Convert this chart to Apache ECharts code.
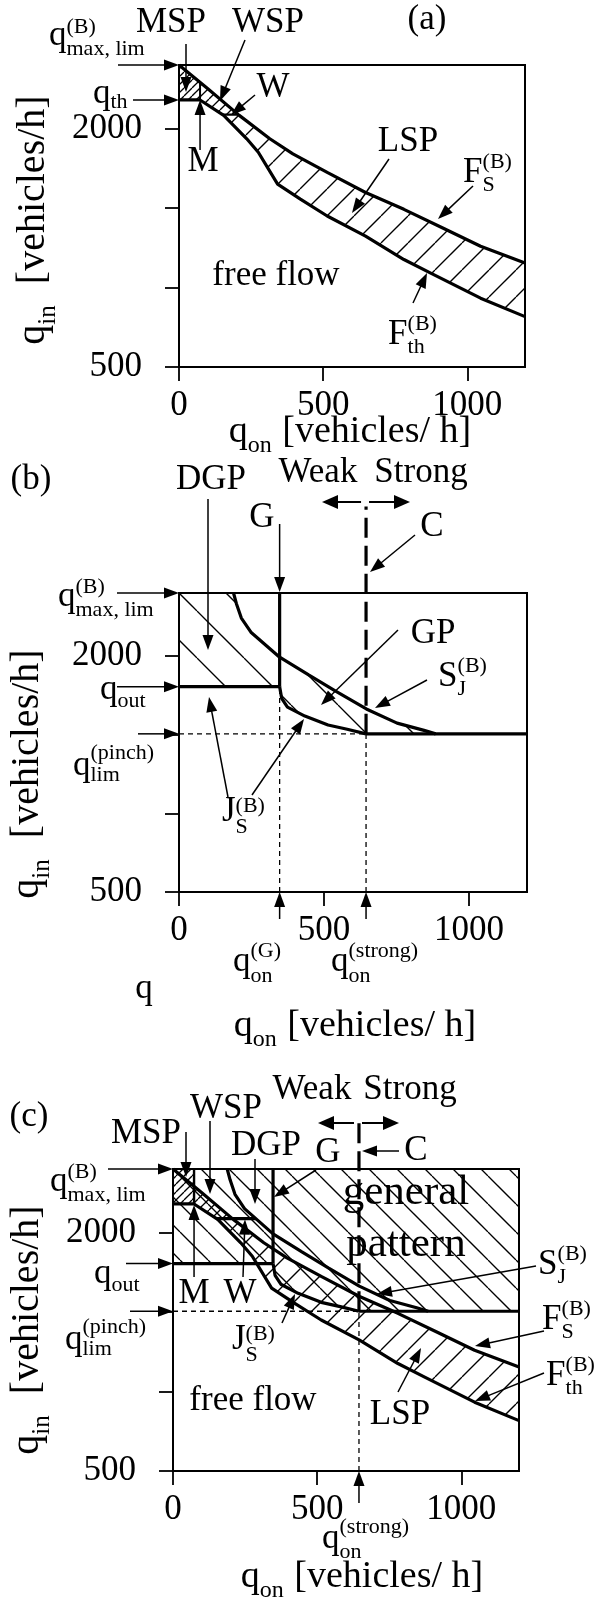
<!DOCTYPE html>
<html><head><meta charset="utf-8">
<script src="https://cdn.jsdelivr.net/npm/echarts@6/dist/echarts.min.js"></script>
<style>html,body{margin:0;padding:0;background:#fff}#c{width:603px;height:1608px}</style>
</head><body><div id="c"></div>
<script>
// ---------------- data ----------------
const xTicks = [0, 500, 1000];
const yTicks = [500, 1000, 1500, 2000];
const yTickLabels = [500, 2000];
const xMax = 1200, yMin = 500, yMax = 2400;

// F_S^(B) boundary
const fsX = [0, 100, 209, 315, 395, 514, 647, 780, 913, 1046, 1200];
const fsY = [2400, 2250, 2083, 1936, 1841, 1724, 1598, 1492, 1376, 1260, 1155];
// F_th^(B) boundary
const fthX = [73, 155, 235, 275, 342, 421, 514, 647, 780, 873, 1046, 1200];
const fthY = [2180, 2083, 1936, 1851, 1651, 1556, 1450, 1323, 1176, 1091, 933, 817];
const qTh = 2180, qOnM = 73, qW = 2088;
// S_J^(B) boundary
const sjX = [188, 198, 215, 248, 347, 447, 540, 646, 752, 845, 885];
const sjY = [2400, 2332, 2241, 2151, 1992, 1879, 1777, 1663, 1573, 1527, 1505];
// J_S^(B) boundary
const jsX = [347, 354, 374, 434, 514, 580, 645];
const jsY = [1805, 1731, 1675, 1618, 1561, 1534, 1505];
const qOut = 1805, qPinch = 1505, qOnG = 347, qOnStrong = 645;
const cTopB = 2950, cTopC = 2730;

// ---------------- helpers ----------------
const FONT = '"Liberation Serif","Times New Roman",serif';
const TH = 3.2, TN = 1.3;
function yAt(xs, ys, x) { for (let i = 0; i < xs.length - 1; i++) { if (x >= xs[i] && x <= xs[i + 1]) { const t = (x - xs[i]) / (xs[i + 1] - xs[i]); return ys[i] + t * (ys[i + 1] - ys[i]); } } return x < xs[0] ? ys[0] : ys[ys.length - 1]; }
function xAtY(xs, ys, y) { for (let i = 0; i < ys.length - 1; i++) { const a = ys[i], b = ys[i + 1]; if ((y <= a && y >= b) || (y >= a && y <= b)) { const t = (y - a) / (b - a); return xs[i] + t * (xs[i + 1] - xs[i]); } } return NaN; }
function pts(xs, ys) { return xs.map((x, i) => [x, ys[i]]); }
function seg(xs, ys, x0, x1) { const o = [[x0, yAt(xs, ys, x0)]]; xs.forEach((x, i) => { if (x > x0 && x < x1) o.push([x, ys[i]]); }); o.push([x1, yAt(xs, ys, x1)]); return o; }

const xFsW = xAtY(fsX, fsY, qW), xFthW = xAtY(fthX, fthY, qW), xSjW = xAtY(sjX, sjY, qW);
const sjEnd = sjX[sjX.length - 1];

function hatch(P, dir, phase, lw) {
  const c = document.createElement('canvas'); c.width = P; c.height = P;
  const g = c.getContext('2d'); g.strokeStyle = '#000'; g.lineWidth = lw;
  for (let k = -2; k <= 2; k++) {
    const o = phase + k * P; g.beginPath();
    if (dir === '\\') { g.moveTo(o, 0); g.lineTo(o + P, P); } else { g.moveTo(o, P); g.lineTo(o + P, 0); }
    g.stroke();
  }
  return { image: c, repeat: 'repeat' };
}

const chart = echarts.init(document.getElementById('c'), null, { renderer: 'canvas' });
const grids = [
  { left: 179, top: 65, width: 346, height: 302 },
  { left: 179, top: 593, width: 348, height: 299 },
  { left: 173, top: 1169, width: 346, height: 302 }
];
const fmt = v => String(v);
function xAx(i) { return { type: 'value', gridIndex: i, min: 0, max: xMax, axisLine: { show: true, onZero: false, lineStyle: { color: '#000', width: 2 } }, axisTick: { show: true, length: 14, customValues: xTicks, lineStyle: { color: '#000', width: 1.8 } }, axisLabel: { customValues: xTicks, formatter: fmt, fontSize: 35, fontFamily: FONT, color: '#000', margin: 21 }, splitLine: { show: false } }; }
function yAx(i) { return { type: 'value', gridIndex: i, min: yMin, max: yMax, axisLine: { show: true, onZero: false, lineStyle: { color: '#000', width: 2 } }, axisTick: { show: true, length: 14, customValues: yTicks, lineStyle: { color: '#000', width: 1.8 } }, axisLabel: { customValues: yTickLabels, formatter: fmt, fontSize: 35, fontFamily: FONT, color: '#000', margin: 37 }, splitLine: { show: false } }; }
function line(g, data, w, type) { return { type: 'line', xAxisIndex: g, yAxisIndex: g, data: data, symbol: 'none', showSymbol: false, clip: false, silent: true, z: 5, lineStyle: { color: '#000', width: w, type: type || 'solid', cap: 'butt' } }; }
function hatchSeries(g, polys) {
  return { type: 'custom', xAxisIndex: g, yAxisIndex: g, coordinateSystem: 'cartesian2d', silent: true, clip: false, z: 2,
    data: polys.map(() => [0, yMin]),
    renderItem: (params, api) => {
      const p = polys[params.dataIndex];
      return { type: 'polygon', shape: { points: p.pts.map(q => api.coord(q)) }, style: { fill: p.fill(), stroke: null, lineWidth: 0 } };
    } };
}
let corner = [];
function bs(g, P) { return () => { const c = corner[g]; return hatch(P, '\\', (((c[0] - c[1]) % P) + P) % P, 1.3); }; }
function sl(P, ph) { return () => hatch(P, '/', ph, 1.3); }

const wspPoly = [...seg(fsX, fsY, qOnM, xFsW), ...seg(fthX, fthY, qOnM, xFthW).reverse()];
const lspPoly = [...seg(fsX, fsY, xFsW, xMax), ...seg(fthX, fthY, xFthW, xMax).reverse()];
const mspA = [...seg(fsX, fsY, 0, qOnM), [qOnM, qTh], [0, qTh]];
const mspC = [[0, yMax], [qOnM, yMax], [qOnM, qTh], [0, qTh]];
const dgpB = [[0, qOut], [qOnG, qOut], ...seg(sjX, sjY, sjX[0], qOnG).reverse(), [0, yMax]];
const gpB = [...pts(jsX, jsY), [sjEnd, qPinch], ...seg(sjX, sjY, qOnG, sjEnd).reverse()];
const genC = [[0, yMax], [xMax, yMax], [xMax, qPinch], [qOnStrong, qPinch], ...pts(jsX, jsY).reverse(), [0, qOut]];

const series = [
  // ---- (a)
  hatchSeries(0, [{ pts: mspA, fill: sl(8, 0) }, { pts: wspPoly, fill: sl(11, 0) }, { pts: lspPoly, fill: sl(27, 3) }]),
  line(0, pts(fsX, fsY), TH),
  line(0, [[0, qTh], ...pts(fthX, fthY)], TH),
  line(0, [[qOnM, qTh], [qOnM, yAt(fsX, fsY, qOnM)]], 2),
  line(0, [[xFthW, qW], [xFsW, qW]], 2.4),
  // ---- (b)
  hatchSeries(1, [{ pts: dgpB, fill: bs(1, 47) }, { pts: gpB, fill: bs(1, 47) }]),
  line(1, pts(sjX, sjY), TH),
  line(1, pts(jsX, jsY), TH),
  line(1, [[0, qOut], [qOnG, qOut]], TH),
  line(1, [[qOnG, qOut], [qOnG, yMax]], TH),
  line(1, [[qOnStrong, qPinch], [xMax, qPinch]], TH),
  line(1, [[0, qPinch], [qOnStrong, qPinch]], TN, [5, 4]),
  line(1, [[qOnG, yMin], [qOnG, qOut]], TN, [5, 4]),
  line(1, [[qOnStrong, yMin], [qOnStrong, qPinch]], TN, [5, 4]),
  line(1, [[qOnStrong, qPinch], [qOnStrong, cTopB]], TH, [20, 8]),
  // ---- (c)
  hatchSeries(2, [{ pts: genC, fill: bs(2, 28) }, { pts: mspC, fill: sl(8, 0) }, { pts: wspPoly, fill: sl(11, 0) }, { pts: lspPoly, fill: sl(27, 3) }]),
  line(2, pts(fsX, fsY), TH),
  line(2, [[0, qTh], ...pts(fthX, fthY)], TH),
  line(2, pts(sjX, sjY), TH),
  line(2, pts(jsX, jsY), TH),
  line(2, [[0, qOut], [qOnG, qOut]], TH),
  line(2, [[qOnG, qOut], [qOnG, yMax]], TH),
  line(2, [[qOnStrong, qPinch], [xMax, qPinch]], TH),
  line(2, [[0, qPinch], [qOnStrong, qPinch]], TN, [5, 4]),
  line(2, [[qOnStrong, yMin], [qOnStrong, qPinch]], TN, [5, 4]),
  line(2, [[qOnStrong, qPinch], [qOnStrong, cTopC]], TH, [20, 8]),
  line(2, [[qOnM, qTh], [qOnM, yMax]], 2.4),
  line(2, [[xFthW, qW], [xSjW, qW]], TH)
];

const base = {
  animation: false,
  backgroundColor: '#fff',
  grid: grids.map(g => Object.assign({ show: true, borderColor: '#000', borderWidth: 2, backgroundColor: 'transparent', containLabel: false }, g)),
  xAxis: [xAx(0), xAx(1), xAx(2)],
  yAxis: [yAx(0), yAx(1), yAx(2)],
  series: []
};
chart.setOption(base);
const P = (g, x, y) => chart.convertToPixel({ gridIndex: g }, [x, y]);
corner = [P(0, 0, yMax), P(1, 0, yMax), P(2, 0, yMax)];
chart.setOption({ series: series });

// ---------------- annotations ----------------
const mctx = document.createElement('canvas').getContext('2d');
function tw(t, fs) { mctx.font = fs + 'px ' + FONT; return mctx.measureText(t).width; }
function txt(t, x, y, fs) { return { type: 'text', x: x, y: y, silent: true, z: 20, style: { text: t, fontSize: fs, fontFamily: FONT, fill: '#000', textAlign: 'left', textVerticalAlign: 'middle', align: 'left', verticalAlign: 'middle' } }; }
function math(segs, x, baseline, fs, opt) {
  opt = opt || {};
  const sfs = opt.sfs || Math.round(fs * 0.62);
  const subDy = opt.subDy != null ? opt.subDy : 0.22 * fs;
  const supDy = opt.supDy != null ? opt.supDy : -0.45 * fs;
  let w = 0; const items = [];
  for (const s of segs) {
    if (typeof s === 'string') { items.push({ t: s, dx: w, dy: 0, fs: fs }); w += tw(s, fs); }
    else { let sw = 0; if (s.sub) { items.push({ t: s.sub, dx: w, dy: subDy, fs: sfs }); sw = Math.max(sw, tw(s.sub, sfs)); } if (s.sup) { items.push({ t: s.sup, dx: w, dy: supDy, fs: sfs }); sw = Math.max(sw, tw(s.sup, sfs)); } w += sw + 1; }
  }
  const x0 = opt.center ? x - w / 2 : x;
  return items.map(it => txt(it.t, x0 + it.dx, baseline + it.dy - 0.34 * it.fs, it.fs));
}
function label(t, cx, cy, fs) { fs = fs || 35; return txt(t, cx - tw(t, fs) / 2, cy, fs); }
function arrow(a, b, lw, hl, hw) {
  lw = lw || 1.5; hl = hl || 15; hw = hw || 5.5;
  const dx = b[0] - a[0], dy = b[1] - a[1], L = Math.hypot(dx, dy), ux = dx / L, uy = dy / L;
  const bx = b[0] - ux * hl, by = b[1] - uy * hl;
  return [
    { type: 'line', silent: true, z: 18, shape: { x1: a[0], y1: a[1], x2: bx + ux * 2, y2: by + uy * 2 }, style: { stroke: '#000', lineWidth: lw } },
    { type: 'polygon', silent: true, z: 18, shape: { points: [[b[0], b[1]], [bx - uy * hw, by + ux * hw], [bx + uy * hw, by - ux * hw]] }, style: { fill: '#000' } }
  ];
}
function yTitle(cx, cy) {
  const fs = 40;
  return { type: 'group', x: cx, y: cy, rotation: Math.PI / 2, children: math(['q', { sub: 'in' }, '  [vehicles/h]'], 0, 0.34 * fs, fs, { center: true, subDy: 10 }) };
}
function xTitle(cx, baseline) { return math(['q', { sub: 'on' }, ' [vehicles/ h]'], cx, baseline, 38, { center: true, subDy: 9 }); }

const E = [];
const push = a => { for (const e of a) E.push(e); };
// ---- (a)
let t;
t = P(0, 0, yMax); push(arrow([118, t[1]], t));
t = P(0, 0, qTh); push(arrow([133, t[1]], t));
push(arrow([186, 44], [186, 92]));
push(arrow([245, 40], [220, 101]));
push(arrow([255, 95], [231, 115]));
t = P(0, qOnM, qTh); push(arrow([t[0], 150], t));
push(arrow([389, 159], [352, 213]));
push(arrow([473, 186], [438, 219]));
push(arrow([413, 303], [427, 273]));
E.push(label('(a)', 427, 20));
E.push(label('MSP', 171, 23));
E.push(label('WSP', 268, 23));
E.push(label('W', 273, 88));
E.push(label('M', 203, 162));
E.push(label('LSP', 408, 142));
E.push(label('free flow', 276, 276));
push(math(['F', { sub: 'S', sup: '(B)' }], 488, 185, 35, { center: true }));
push(math(['F', { sub: 'th', sup: '(B)' }], 413, 347, 35, { center: true }));
push(math(['q', { sub: 'max, lim', sup: '(B)' }], 49, 48, 35, { supDy: -13, subDy: 9 }));
push(math(['q', { sub: 'th' }], 93, 106, 35, { subDy: 4 }));
E.push(yTitle(33, 220));
push(xTitle(350, 445));
// ---- (b)
t = P(1, 0, yMax); push(arrow([117, t[1]], t));
t = P(1, 0, qOut); push(arrow([117, t[1]], t));
t = P(1, 0, qPinch); push(arrow([138, t[1]], t));
push(arrow([208, 499], [208, 650]));
t = P(1, qOnG, yMax); push(arrow([t[0], 524], [t[0], t[1] - 1]));
push(arrow([415, 535], [370, 572]));
push(arrow([398, 630], [321, 705]));
push(arrow([427, 680], [375, 708]));
push(arrow([228, 797], [209, 697]));
push(arrow([252, 795], [304, 719]));
t = P(1, qOnStrong, yMax); push(arrow([t[0] - 5, 502], [322, 502], 2, 16, 7)); push(arrow([t[0] + 3, 502], [410, 502], 2, 16, 7));
t = P(1, qOnG, yMin); push(arrow([t[0], 919], t));
t = P(1, qOnStrong, yMin); push(arrow([t[0], 919], t));
E.push(label('(b)', 31, 480));
E.push(label('DGP', 211, 480));
E.push(label('Weak', 318, 473));
E.push(label('Strong', 421, 473));
E.push(label('G', 262, 518));
E.push(label('C', 432, 527));
E.push(label('GP', 433, 634));
push(math(['S', { sub: 'J', sup: '(B)' }], 463, 689, 35, { center: true }));
push(math(['q', { sub: 'max, lim', sup: '(B)' }], 58, 609, 35, { supDy: -14, subDy: 9 }));
push(math(['q', { sub: 'out' }], 100, 702, 35, { subDy: 7 }));
push(math(['q', { sub: 'lim', sup: '(pinch)' }], 73, 778, 35, { supDy: -17, subDy: 5 }));
push(math(['J', { sub: 'S', sup: '(B)' }], 222, 824, 35, { supDy: -10, subDy: 11 }));
push(math(['q', { sub: 'on', sup: '(G)' }], 233, 974, 35, { supDy: -15, subDy: 10 }));
push(math(['q', { sub: 'on', sup: '(strong)' }], 331, 974, 35, { supDy: -15, subDy: 10 }));
E.push(label('q', 144, 989));
E.push(yTitle(27, 774));
push(xTitle(355, 1039));
// ---- (c)
t = P(2, 0, yMax); push(arrow([108, t[1]], t));
t = P(2, 0, qOut); push(arrow([126, t[1]], t));
t = P(2, 0, qPinch); push(arrow([130, t[1]], t));
push(arrow([186, 1132], [186, 1177]));
push(arrow([210, 1121], [210, 1194]));
push(arrow([255, 1159], [255, 1204]));
push(arrow([316, 1170], [274, 1197]));
push(arrow([399, 1151], [362, 1151]));
t = P(2, qOnStrong, yMax); push(arrow([t[0] - 5, 1123], [318, 1123], 2, 16, 7)); push(arrow([t[0] + 3, 1123], [399, 1123], 2, 16, 7));
push(arrow([536, 1266], [377, 1294]));
push(arrow([544, 1331], [475, 1346]));
push(arrow([544, 1373], [475, 1401]));
push(arrow([398, 1392], [421, 1348]));
t = P(2, qOnM, qTh); push(arrow([t[0], 1277], [t[0], t[1] + 1]));
t = P(2, (xFthW + xSjW) / 2 + 30, qW); push(arrow([243, 1277], [245, t[1] + 1]));
push(arrow([282, 1323], [295, 1294]));
t = P(2, qOnStrong, yMin); push(arrow([t[0], 1503], t));
E.push(label('(c)', 29, 1117));
E.push(label('MSP', 146, 1134));
E.push(label('WSP', 226, 1109));
E.push(label('DGP', 266, 1146));
E.push(label('G', 328, 1153));
E.push(label('C', 416, 1151));
E.push(label('Weak', 312, 1090));
E.push(label('Strong', 410, 1090));
E.push(label('general', 406, 1193, 43));
E.push(label('pattern', 406, 1245, 43));
E.push(label('M', 194, 1294));
E.push(label('W', 240, 1294));
E.push(label('LSP', 400, 1415));
E.push(label('free flow', 253, 1401));
push(math(['S', { sub: 'J', sup: '(B)' }], 563, 1277, 35, { center: true }));
push(math(['F', { sub: 'S', sup: '(B)' }], 567, 1332, 35, { center: true }));
push(math(['F', { sub: 'th', sup: '(B)' }], 571, 1388, 35, { center: true }));
push(math(['q', { sub: 'max, lim', sup: '(B)' }], 50, 1194, 35, { supDy: -14, subDy: 9 }));
push(math(['q', { sub: 'out' }], 94, 1286, 35, { subDy: 7 }));
push(math(['q', { sub: 'lim', sup: '(pinch)' }], 65, 1352, 35, { supDy: -17, subDy: 5 }));
push(math(['J', { sub: 'S', sup: '(B)' }], 232, 1352, 35, { supDy: -10, subDy: 11 }));
push(math(['q', { sub: 'on', sup: '(strong)' }], 322, 1551, 35, { supDy: -16, subDy: 9 }));
E.push(yTitle(27, 1330));
push(xTitle(362, 1590));

chart.setOption({ graphic: { elements: E } });
</script></body></html>
